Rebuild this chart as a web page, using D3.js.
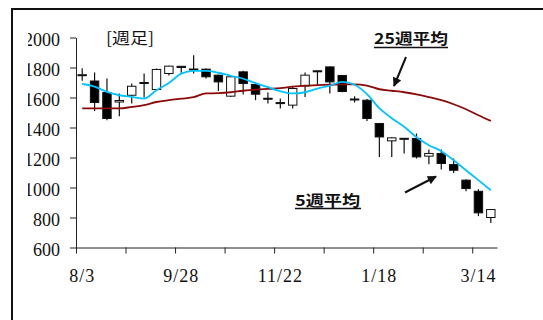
<!DOCTYPE html>
<html>
<head>
<meta charset="utf-8">
<script src="https://cdn.jsdelivr.net/npm/d3@7"></script>
<style>
body { margin: 0; background: #fff; }
svg { display: block; }
.axis path, .axis line { stroke: #222; }
.note { font-family: "Noto Sans CJK JP", sans-serif; fill: #111; }
</style>
</head>
<body>
<svg width="543" height="320"></svg>
<script>
// weekly candles, 2007/8/3 - 2008/3/21
var weeks = ['8/3','8/10','8/17','8/24','8/31','9/7','9/14','9/21','9/28','10/5','10/12','10/19',
    '10/26','11/2','11/9','11/16','11/22','11/30','12/7','12/14','12/21','12/28','1/4','1/11',
    '1/18','1/25','2/1','2/8','2/15','2/22','2/29','3/7','3/14','3/21'];

var opens  = [1750,1710,1633,1570,1615,1695,1653,1760,1808,1785,1789,1749,1609,1771,1687,1595,1566,
    1549,1677,1778,1804,1747,1590,1582,1427,1311,1328,1327,1209,1227,1153,1049,975,800];
var closes = [1752,1567,1460,1580,1675,1700,1787,1809,1800,1790,1738,1704,1738,1693,1622,1590,1562,
    1660,1749,1772,1704,1640,1584,1460,1337,1331,1322,1204,1227,1160,1115,993,831,853];
var highs  = [1795,1767,1727,1627,1693,1760,1793,1812,1810,1882,1793,1752,1740,1778,1690,1633,1593,
    1671,1767,1778,1806,1750,1609,1590,1430,1337,1330,1360,1253,1253,1193,1055,989,857];
var lows   = [1712,1509,1449,1475,1560,1600,1649,1747,1765,1760,1727,1644,1604,1620,1582,1560,1527,
    1527,1604,1685,1627,1635,1567,1444,1204,1204,1227,1193,1155,1120,1097,975,809,764];

var ma5  = [1690,1673,1637,1615,1604,1593,1649,1697,1759,1777,1777,1765,1745,1725,1696,1669,1642,
    1627,1635,1659,1679,1704,1685,1622,1529,1462,1405,1335,1282,1242,1182,1115,1049,982];
var ma25 = [1527,1527,1527,1527,1537,1549,1570,1582,1592,1602,1627,1629,1635,1645,1652,1657,1662,
    1672,1679,1682,1685,1688,1688,1679,1655,1645,1635,1621,1602,1582,1555,1522,1482,1444];

var yTicks = [600,800,1000,1200,1400,1600,1800,2000];
var xLabels = ['8/3','9/28','11/22','1/18','3/14'];
var xTickIdx = [0,4,8,12,16,20,24,28,32];

var svg = d3.select('svg');

var x = d3.scaleBand().domain(weeks).range([76,497]);
var idx = d3.scaleLinear().domain([0,weeks.length]).range([76,497]);
var y = d3.scaleLinear().domain([600,2000]).range([247.5,37.5]);

// outer frame (runs off the right / bottom)
svg.append('rect')
    .attr('x',12).attr('y',9).attr('width',600).attr('height',400)
    .attr('fill','none').attr('stroke','#111').attr('stroke-width',2);

svg.append('clipPath').attr('id','yclip')
    .append('rect').attr('x',28).attr('y',0).attr('width',520).attr('height',320);

function serif(sel) {
    sel.style('font-family','"Liberation Serif","Times New Roman",serif')
        .style('font-size','18px')
        .style('fill','#111');
}

// **** axes ****
var yAxis = svg.append('g').attr('class','axis')
    .attr('clip-path','url(#yclip)')
    .append('g')
    .attr('transform','translate(76,0)')
    .call(d3.axisLeft(y).tickValues(yTicks).tickFormat(d3.format('d'))
        .tickSize(6).tickSizeOuter(0).tickPadding(10));
yAxis.selectAll('text').attr('dy','0.45em').call(serif);

svg.append('g').attr('class','axis')
    .attr('transform','translate(0,247.5)')
    .call(d3.axisBottom(x).tickValues(xLabels).tickSize(0).tickSizeOuter(0).tickPadding(22))
    .selectAll('text').call(serif).style('letter-spacing','1px');

svg.append('g').attr('class','axis')
    .attr('transform','translate(0,247.5)')
    .call(d3.axisBottom(idx).tickValues(xTickIdx).tickSize(6).tickFormat(''))
    .select('.domain').remove();

// **** candles ****
var bw = x.bandwidth() * 0.68;
var candles = svg.append('g').selectAll('g')
    .data(weeks)
    .enter()
    .append('g')
    .attr('transform', function(d){ return 'translate(' + (x(d) + x.bandwidth()/2) + ',0)'; });

candles.append('line')
    .attr('x1',0).attr('x2',0)
    .attr('y1', function(d,i){ return y(highs[i]); })
    .attr('y2', function(d,i){ return y(lows[i]); })
    .attr('stroke','#111').attr('stroke-width',1.2);

candles.append('rect')
    .attr('x', -bw/2)
    .attr('width', bw)
    .attr('y', function(d,i){ return y(Math.max(opens[i],closes[i])); })
    .attr('height', function(d,i){ return Math.max(1, Math.abs(y(opens[i]) - y(closes[i]))); })
    .attr('fill', function(d,i){ return closes[i] < opens[i] ? '#000' : '#fff'; })
    .attr('stroke','#111').attr('stroke-width',1);

// **** moving averages ****
var line = d3.line()
    .x(function(d,i){ return x(weeks[i]) + x.bandwidth()/2; })
    .y(function(d){ return y(d); })
    .curve(d3.curveMonotoneX);

svg.append('path').datum(ma25)
    .attr('d', line).attr('fill','none')
    .attr('stroke','#8b0a0a').attr('stroke-width',1.8);

svg.append('path').datum(ma5)
    .attr('d', line).attr('fill','none')
    .attr('stroke','#00c4ff').attr('stroke-width',1.8);

// **** labels and arrows ****
svg.append('text').attr('class','note')
    .attr('x',106).attr('y',44)
    .attr('font-size',16)
    .attr('textLength',48).attr('lengthAdjust','spacingAndGlyphs')
    .text('[週足]');

svg.append('text').attr('class','note')
    .attr('x',374).attr('y',44)
    .attr('font-size',15).attr('font-weight',700)
    .attr('textLength',74).attr('lengthAdjust','spacingAndGlyphs')
    .text('25週平均');
svg.append('line')
    .attr('x1',374).attr('x2',448).attr('y1',47.5).attr('y2',47.5)
    .attr('stroke','#111').attr('stroke-width',1.5);

svg.append('text').attr('class','note')
    .attr('x',295).attr('y',206)
    .attr('font-size',15).attr('font-weight',700)
    .attr('textLength',65).attr('lengthAdjust','spacingAndGlyphs')
    .text('5週平均');
svg.append('line')
    .attr('x1',295).attr('x2',361).attr('y1',208.5).attr('y2',208.5)
    .attr('stroke','#111').attr('stroke-width',1.5);

svg.append('defs').append('marker')
    .attr('id','head')
    .attr('viewBox','0 0 10 10')
    .attr('refX',9).attr('refY',5)
    .attr('markerWidth',10).attr('markerHeight',9)
    .attr('markerUnits','userSpaceOnUse')
    .attr('orient','auto')
    .append('path').attr('d','M0,0L10,5L0,10z').attr('fill','#111');

svg.append('line')
    .attr('x1',406).attr('y1',57).attr('x2',394).attr('y2',86)
    .attr('stroke','#111').attr('stroke-width',2)
    .attr('marker-end','url(#head)');

svg.append('line')
    .attr('x1',405).attr('y1',192.5).attr('x2',436).attr('y2',176.5)
    .attr('stroke','#111').attr('stroke-width',2)
    .attr('marker-end','url(#head)');
</script>
</body>
</html>
